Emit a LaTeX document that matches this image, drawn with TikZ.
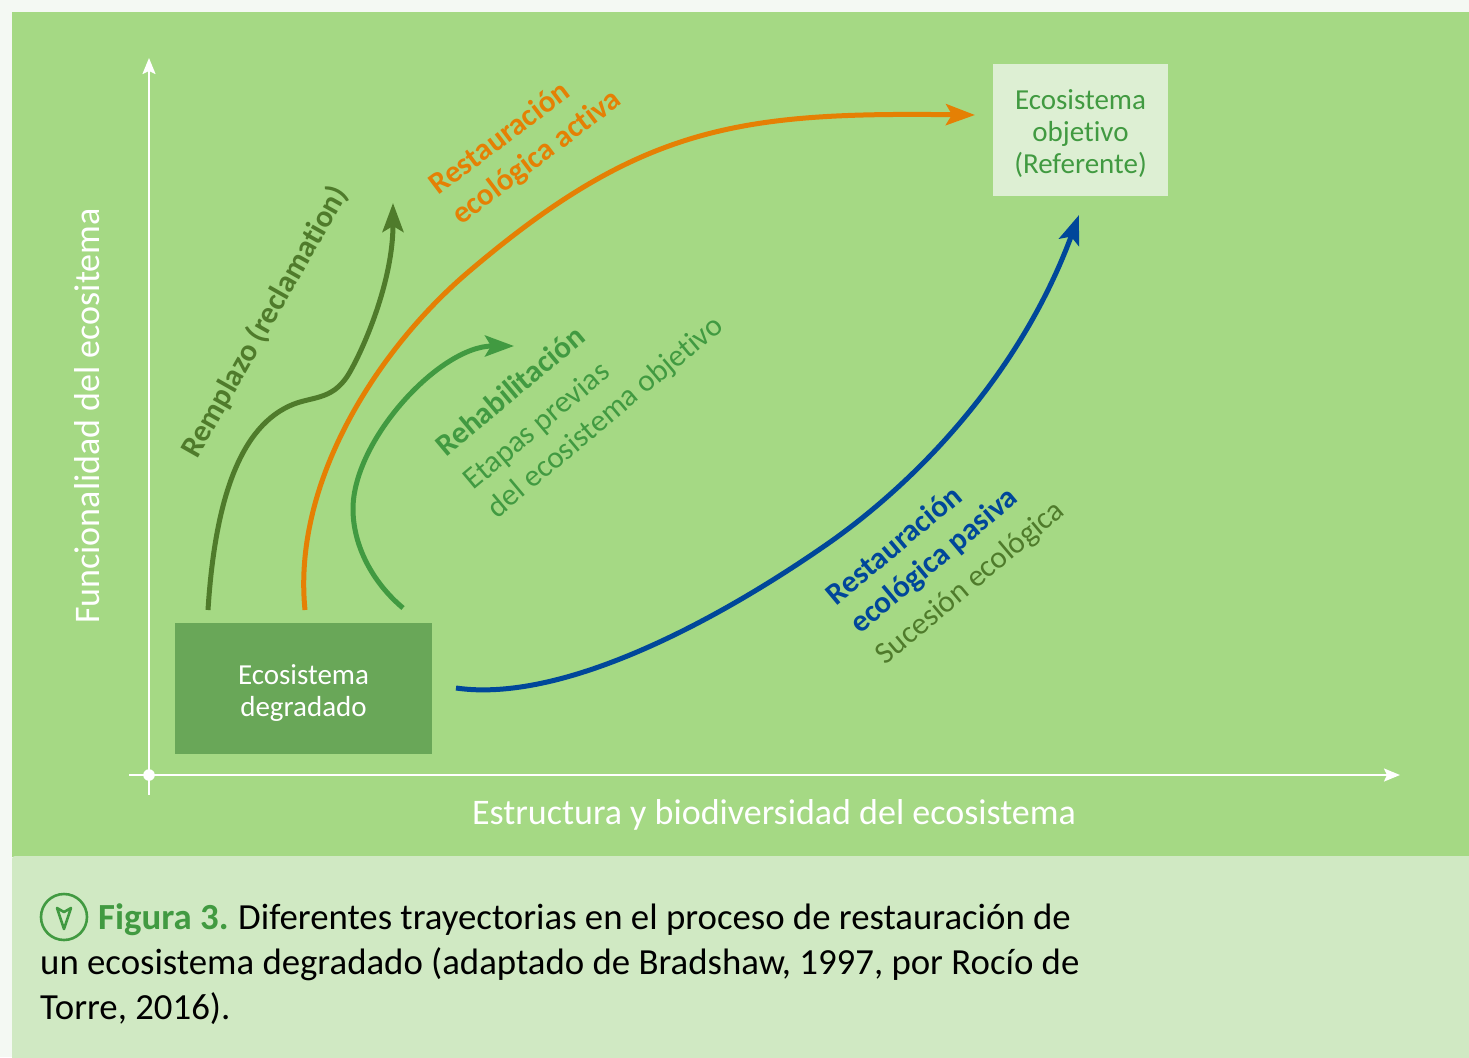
\documentclass[tikz,border=0pt]{standalone}
\usepackage{fontspec}
\setmainfont[Ligatures=NoCommon]{Carlito}
\usetikzlibrary{arrows.meta}
\definecolor{pagebg}{HTML}{F4F9F3}
\definecolor{panelbg}{HTML}{A5D984}
\definecolor{capbg}{HTML}{D0E9C3}
\definecolor{degbg}{HTML}{69A758}
\definecolor{objbg}{HTML}{DDEFD3}
\definecolor{midgreen}{HTML}{419A41}
\definecolor{darkgreen}{HTML}{4F7B2B}
\definecolor{orangeline}{HTML}{E58004}
\definecolor{blueline}{HTML}{00479A}
\tikzset{
	traj/.style={line width=5pt,-{Stealth[length=29pt,width=21pt,inset=6pt]}},
	axis/.style={white,line width=2pt,-{Stealth[length=16pt,width=13pt,inset=3pt]}},
	lab/.style={font=\fontsize{31}{37}\selectfont,align=left},
	boxtxt/.style={font=\fontsize{29}{32}\selectfont,align=center},
	captxt/.style={anchor=base west,inner sep=0pt,font=\fontsize{36.8}{45}\selectfont},
}
\begin{document}
\begin{tikzpicture}[x=1pt,y=-1pt]
		\useasboundingbox (0,0) rectangle (1469,1057);
		\fill[pagebg] (0,0) rectangle (1469,1057);
		\fill[panelbg] (12,12) rectangle (1469,857);
		\fill[capbg,rounded corners=3pt] (12,856) rectangle (1480,1070);

		\path (149,775) coordinate (origin);
		\path (129,775) coordinate (xstart);
		\path (1400,775) coordinate (xend);
		\path (149,795) coordinate (ystart);
		\path (149,58) coordinate (yend);
		\path (208,610) coordinate (rem0);
		\path (393,203) coordinate (rem1);
		\path (305,610) coordinate (act0);
		\path (975,115) coordinate (act1);
		\path (403,608) coordinate (reh0);
		\path (514,346) coordinate (reh1);
		\path (456,688) coordinate (pas0);
		\path (1079,215) coordinate (pas1);

		\draw[axis] (xstart) -- (xend);
		\draw[axis] (ystart) -- (yend);
		\fill[white] (origin) circle (5.8);

		\node[fill=degbg,minimum width=257pt,minimum height=131pt,inner sep=0pt] (degradado) at (303.5,688.5) {};
		\node[text=white,boxtxt] (degradadotext) at (303.5,693) {Ecosistema\\degradado};
		\node[fill=objbg,minimum width=175pt,minimum height=132pt,inner sep=0pt] (objetivo) at (1080.5,130) {};
		\node[text=midgreen,boxtxt] (objetivotext) at (1080.5,134) {Ecosistema\\objetivo\\(Referente)};

		\draw[traj,darkgreen] (rem0) .. controls (215,500) and (240,425) .. (294,404) .. controls (315,396) and (335,400) .. (351,370) .. controls (365,345) and (393,280) .. (rem1);
		\draw[traj,orangeline] (act0) .. controls (292,480) and (380,348) .. (466,274) .. controls (640,125) and (740,112) .. (act1);
		\draw[traj,midgreen] (reh0) .. controls (372,582) and (353,545) .. (353,509) .. controls (353,440) and (440,346) .. (reh1);
		\draw[traj,blueline] (pas0) .. controls (560,703) and (710,625) .. (823,547) .. controls (915,484) and (1020,375) .. (pas1);

		\node[text=white,font=\fontsize{36}{38}\selectfont,rotate=90] (ylabel) at (87,416) {Funcionalidad del ecositema};
		\node[text=white,font=\fontsize{36}{38}\selectfont] (xlabel) at (774,815) {Estructura y biodiversidad del ecosistema};

		\node[lab,text=darkgreen,rotate=60.5,font=\fontsize{31}{33}\selectfont\bfseries] (remlabel) at (265,322) {Remplazo (reclamation)};
		\node[lab,text=orangeline,rotate=37,font=\fontsize{31}{37}\selectfont\bfseries] (actlabel) at (526,143) {Restauración\\ecológica activa};
		\node[lab,text=midgreen,rotate=40] (rehlabel) at (580,387) {\textbf{Rehabilitación}\\[6pt]Etapas previas\\del ecosistema objetivo};
		\node[lab,text=blueline,rotate=40] (paslabel) at (946,554) {\textbf{Restauración}\\\textbf{ecológica pasiva}\\[3pt]\textcolor{darkgreen}{Sucesión ecológica}};

		\draw[midgreen,line width=2.6pt] (64,917) circle (23);
		\draw[midgreen,line width=2.6pt,line join=round] (57,908) -- (64,912) -- (71,908) -- (64,929) -- cycle;
		\node[captxt,font=\fontsize{36.8}{45}\selectfont\bfseries,text=midgreen] (figlabel) at (98,929) {Figura 3.};
		\node[captxt] (capline1) at (238,929) {Diferentes trayectorias en el proceso de restauración de};
		\node[captxt] (capline2) at (40,974) {un ecosistema degradado (adaptado de Bradshaw, 1997, por Rocío de};
		\node[captxt] (capline3) at (40,1019) {Torre, 2016).};
	\end{tikzpicture}
\end{document}
